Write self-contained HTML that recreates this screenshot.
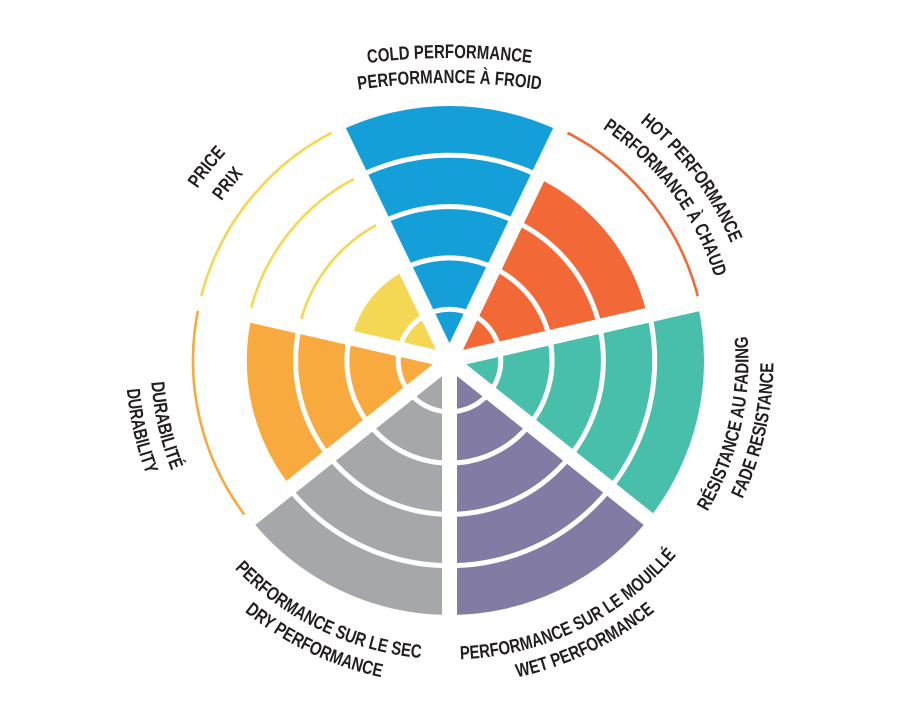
<!DOCTYPE html>
<html>
<head>
<meta charset="utf-8">
<style>
  html, body { margin: 0; padding: 0; background: #ffffff; }
  svg { display: block; }
  .lbl { font-family: "Liberation Sans", Arial, sans-serif; font-weight: bold; font-size: 19px; fill: #231F20; }
</style>
</head>
<body>
<svg width="900" height="720" viewBox="0 0 900 720" xmlns="http://www.w3.org/2000/svg">
  <defs>
    <path id="up278" d="M -261.23 -95.08 A 278 278 0 0 1 261.23 -95.08"/>
    <path id="up305" d="M -286.61 -104.32 A 305 305 0 0 1 286.61 -104.32"/>
    <path id="dn299" d="M -280.97 102.26 A 299 299 0 0 0 280.97 102.26"/>
    <path id="dn324" d="M -304.46 110.81 A 324 324 0 0 0 304.46 110.81"/>
    <path id="cold1" d="M -150 -285 A 650 650 0 0 1 150 -285"/>
    <path id="cold2" d="M -150 -259.1 A 620 620 0 0 1 150 -259.1"/>
  </defs>
  <rect width="900" height="720" fill="#ffffff"/>
  <g transform="translate(449.5,360.5)">
    <!-- wedges -->
    <path d="M0 0 L-110.42 -229.30 A254.5 254.5 0 0 1 110.42 -229.30 Z" fill="#159FD9"/>
    <path transform="rotate(51.4286)" d="M0 0 L-88.16 -183.08 A203.2 203.2 0 0 1 88.16 -183.08 Z" fill="#F26836"/>
    <path transform="rotate(102.857)" d="M0 0 L-110.42 -229.30 A254.5 254.5 0 0 1 110.42 -229.30 Z" fill="#48BFAB"/>
    <path transform="rotate(154.286)" d="M0 0 L-110.42 -229.30 A254.5 254.5 0 0 1 110.42 -229.30 Z" fill="#827BA3"/>
    <path transform="rotate(205.714)" d="M0 0 L-110.42 -229.30 A254.5 254.5 0 0 1 110.42 -229.30 Z" fill="#A6A7AA"/>
    <path transform="rotate(257.143)" d="M0 0 L-88.16 -183.08 A203.2 203.2 0 0 1 88.16 -183.08 Z" fill="#F9AA3E"/>
    <path transform="rotate(308.571)" d="M0 0 L-43.65 -90.64 A100.6 100.6 0 0 1 43.65 -90.64 Z" fill="#F4D853"/>

    <!-- white rings -->
    <g fill="none" stroke="#ffffff" stroke-width="5">
      <circle r="51.3"/>
      <circle r="102.6"/>
      <circle r="153.9"/>
      <circle r="205.2"/>
    </g>

    <!-- thin arcs for remaining scale -->
    <g fill="none" stroke-width="2.6">
      <path transform="rotate(51.4286)" d="M-111.29 -231.10 A256.5 256.5 0 0 1 111.29 -231.10" stroke="#F26836"/>
      <path transform="rotate(257.143)" d="M-111.29 -231.10 A256.5 256.5 0 0 1 111.29 -231.10" stroke="#F9AA3E"/>
      <path transform="rotate(308.571)" d="M-111.29 -231.10 A256.5 256.5 0 0 1 111.29 -231.10" stroke="#F4D853"/>
      <path transform="rotate(308.571)" d="M-89.03 -184.88 A205.2 205.2 0 0 1 89.03 -184.88" stroke="#F4D853"/>
      <path transform="rotate(308.571)" d="M-66.77 -138.66 A153.9 153.9 0 0 1 66.77 -138.66" stroke="#F4D853"/>
    </g>

    <!-- white spokes -->
    <g fill="#ffffff">
      <rect transform="rotate(25.714)" x="-7.5" y="-280" width="15" height="280"/>
      <rect transform="rotate(77.143)" x="-7.5" y="-280" width="15" height="280"/>
      <rect transform="rotate(128.571)" x="-7.5" y="-280" width="15" height="280"/>
      <rect transform="rotate(180)" x="-7.5" y="-280" width="15" height="280"/>
      <rect transform="rotate(231.429)" x="-7.5" y="-280" width="15" height="280"/>
      <rect transform="rotate(282.857)" x="-7.5" y="-280" width="15" height="280"/>
      <rect transform="rotate(334.286)" x="-7.5" y="-280" width="15" height="280"/>
      <circle r="9"/>
    </g>

    <!-- labels -->
    <g class="lbl" text-anchor="middle">
      <!-- Cold -->
      <text><textPath href="#cold1" startOffset="50%" textLength="164" lengthAdjust="spacingAndGlyphs">COLD PERFORMANCE</textPath></text>
      <text><textPath href="#cold2" startOffset="50%" textLength="183" lengthAdjust="spacingAndGlyphs">PERFORMANCE À FROID</textPath></text>

      <!-- Hot -->
      <g transform="rotate(53)">
        <text><textPath href="#up305" startOffset="50%" textLength="153" lengthAdjust="spacingAndGlyphs">HOT PERFORMANCE</textPath></text>
        <text><textPath href="#up278" startOffset="50%" textLength="190" lengthAdjust="spacingAndGlyphs">PERFORMANCE À CHAUD</textPath></text>
      </g>

      <!-- Fade -->
      <g transform="rotate(-77.143)">
        <text><textPath href="#dn299" startOffset="50%" textLength="183" lengthAdjust="spacingAndGlyphs">RÉSISTANCE AU FADING</textPath></text>
        <text><textPath href="#dn324" startOffset="50%" textLength="141" lengthAdjust="spacingAndGlyphs">FADE RESISTANCE</textPath></text>
      </g>

      <!-- Wet -->
      <g transform="rotate(-25.714)">
        <text><textPath href="#dn299" startOffset="50%" textLength="247" lengthAdjust="spacingAndGlyphs">PERFORMANCE SUR LE MOUILLÉ</textPath></text>
        <text><textPath href="#dn324" startOffset="50%" textLength="154" lengthAdjust="spacingAndGlyphs">WET PERFORMANCE</textPath></text>
      </g>

      <!-- Dry -->
      <g transform="rotate(25.714)">
        <text><textPath href="#dn299" startOffset="50%" textLength="211" lengthAdjust="spacingAndGlyphs">PERFORMANCE SUR LE SEC</textPath></text>
        <text><textPath href="#dn324" startOffset="50%" textLength="153" lengthAdjust="spacingAndGlyphs">DRY PERFORMANCE</textPath></text>
      </g>

      <!-- Durability -->
      <g transform="rotate(77.143)">
        <text><textPath href="#dn299" startOffset="50%" textLength="91" lengthAdjust="spacingAndGlyphs">DURABILITÉ</textPath></text>
        <text><textPath href="#dn324" startOffset="50%" textLength="88" lengthAdjust="spacingAndGlyphs">DURABILITY</textPath></text>
      </g>

      <!-- Price -->
      <g transform="rotate(-51.429)">
        <text><textPath href="#up305" startOffset="50%" textLength="46" lengthAdjust="spacingAndGlyphs">PRICE</textPath></text>
        <text><textPath href="#up278" startOffset="50%" textLength="35" lengthAdjust="spacingAndGlyphs">PRIX</textPath></text>
      </g>
    </g>
  </g>
</svg>
</body>
</html>
